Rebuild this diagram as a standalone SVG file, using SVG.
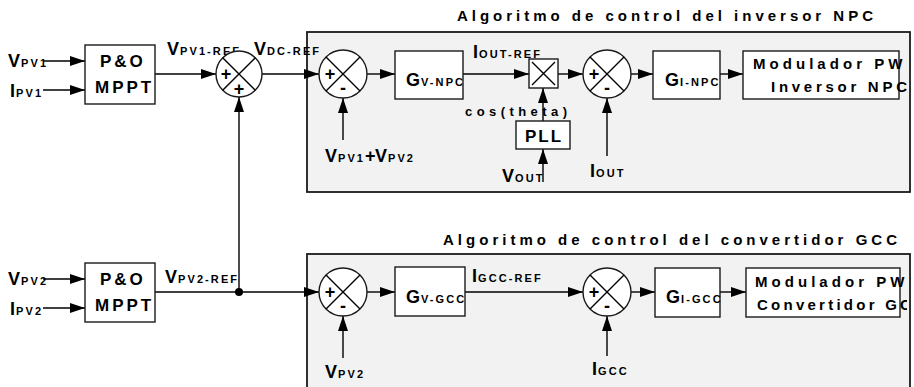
<svg xmlns="http://www.w3.org/2000/svg" width="914" height="387" viewBox="0 0 914 387">
<style>
text{font-family:"Liberation Sans",Arial,sans-serif;font-weight:bold;fill:#000}
.big{font-size:18px}
.sub{font-size:11px;letter-spacing:2.1px}
.ttl{font-size:15px}
.mp{font-size:17px;letter-spacing:3px}
.mod{font-size:15px}
.sg{font-size:18px}
.cont{fill:#f2f2f2;stroke:#1a1a1a;stroke-width:1.8}
.blk{fill:#fff;stroke:#1a1a1a;stroke-width:1.4}
.ln{stroke:#000;stroke-width:1.4;fill:none}
.arr{stroke:#000;stroke-width:1.4;fill:none;marker-end:url(#ah)}
</style>
<defs>
<marker id="ah" markerUnits="userSpaceOnUse" markerWidth="16" markerHeight="11" refX="15" refY="5" orient="auto">
<path d="M0,0 L15,5 L0,10 z" fill="#000"/>
</marker>
<clipPath id="clipR"><rect x="0" y="0" width="907" height="387"/></clipPath>
</defs>
<rect width="914" height="387" fill="#fff"/>

<!-- containers -->
<g id="cont-npc">
<text class="ttl" x="457" y="21" textLength="416" lengthAdjust="spacing">Algoritmo de control del inversor NPC</text>
<rect class="cont" x="307" y="32" width="603" height="160"/>
</g>
<g id="cont-gcc">
<text class="ttl" x="443" y="245" textLength="454" lengthAdjust="spacing">Algoritmo de control del convertidor GCC</text>
<rect class="cont" x="307" y="254" width="603" height="150"/>
</g>

<!-- connectors -->
<g id="connectors">
<line class="arr" x1="43" y1="61" x2="85" y2="61"/>
<line class="arr" x1="43" y1="90" x2="85" y2="90"/>
<line class="arr" x1="155" y1="74" x2="216" y2="74"/>
<line class="arr" x1="239" y1="292" x2="239" y2="97"/>
<line class="arr" x1="262" y1="74" x2="319" y2="74"/>
<line class="arr" x1="343" y1="140" x2="343" y2="98"/>
<line class="arr" x1="367" y1="74" x2="395" y2="74"/>
<line class="arr" x1="463" y1="74" x2="529" y2="74"/>
<line class="arr" x1="558" y1="74" x2="583" y2="74"/>
<line class="arr" x1="543" y1="121" x2="543" y2="88"/>
<line class="arr" x1="543" y1="182" x2="543" y2="149"/>
<line class="arr" x1="607" y1="156" x2="607" y2="98"/>
<line class="arr" x1="631" y1="74" x2="653" y2="74"/>
<line class="arr" x1="720" y1="74" x2="743" y2="74"/>

<line class="arr" x1="43" y1="279" x2="85" y2="279"/>
<line class="arr" x1="43" y1="308" x2="85" y2="308"/>
<line class="ln" x1="155" y1="292" x2="239" y2="292"/>
<line class="arr" x1="239" y1="292" x2="319" y2="292"/>
<circle cx="239" cy="292" r="4" fill="#000"/>
<line class="arr" x1="343" y1="358" x2="343" y2="316"/>
<line class="arr" x1="367" y1="292" x2="395" y2="292"/>
<line class="arr" x1="465" y1="292" x2="583" y2="292"/>
<line class="arr" x1="607" y1="356" x2="607" y2="316"/>
<line class="arr" x1="631" y1="292" x2="655" y2="292"/>
<line class="arr" x1="720" y1="292" x2="746" y2="292"/>
</g>

<!-- labels on signals -->
<g id="labels">
<text class="big" x="8" y="67">V<tspan class="sub" dx="1" letter-spacing="1.5">PV1</tspan></text>
<text class="big" x="10" y="97">I<tspan class="sub" dx="1" letter-spacing="1.5">PV1</tspan></text>
<text class="big" x="8" y="285">V<tspan class="sub" dx="1" letter-spacing="1.5">PV2</tspan></text>
<text class="big" x="10" y="315">I<tspan class="sub" dx="1" letter-spacing="1.5">PV2</tspan></text>
<text class="big" x="167" y="55">V<tspan class="sub" dx="1" letter-spacing="1.8">PV1-REF</tspan></text>
<text class="big" x="254" y="55">V<tspan class="sub" dx="1" letter-spacing="1.8">DC-REF</tspan></text>
<text class="big" x="165" y="283">V<tspan class="sub" dx="1" letter-spacing="2">PV2-REF</tspan></text>
<text class="big" x="325" y="162">V<tspan class="sub" x="338" letter-spacing="1.6">PV1</tspan><tspan x="365">+</tspan><tspan x="375">V</tspan><tspan class="sub" x="388" letter-spacing="1.6">PV2</tspan></text>
<text class="big" x="473" y="58">I<tspan class="sub" dx="1" letter-spacing="3.4">OUT-REF</tspan></text>
<text x="465" y="116" font-size="13" textLength="102" lengthAdjust="spacing">cos(theta)</text>
<text class="big" x="502" y="182">V<tspan class="sub" dx="1" letter-spacing="2.3">OUT</tspan></text>
<text class="big" x="590" y="177">I<tspan class="sub" dx="1" letter-spacing="2.6">OUT</tspan></text>
<text class="big" x="325" y="378">V<tspan class="sub" dx="1" letter-spacing="1.8">PV2</tspan></text>
<text class="big" x="472" y="282">I<tspan class="sub" dx="1" letter-spacing="2.3">GCC-REF</tspan></text>
<text class="big" x="592" y="375">I<tspan class="sub" dx="1" letter-spacing="1.6">GCC</tspan></text>
</g>

<!-- top row nodes -->
<g id="mppt1">
<rect class="blk" x="85" y="45" width="70" height="59"/>
<text class="mp" x="100" y="67">P&amp;O</text>
<text class="mp" x="95" y="93">MPPT</text>
</g>
<g id="sum1">
<circle class="blk" cx="239" cy="74" r="23"/>
<path class="ln" d="M222.7,57.7 L255.3,90.3 M255.3,57.7 L222.7,90.3"/>
<text class="sg" x="226" y="80" text-anchor="middle">+</text>
<text class="sg" x="239" y="95" text-anchor="middle">+</text>
</g>
<g id="sum2">
<circle class="blk" cx="343" cy="74" r="24"/>
<path class="ln" d="M326,57 L360,91 M360,57 L326,91"/>
<text class="sg" x="330" y="80" text-anchor="middle">+</text>
<text class="sg" x="343" y="94" text-anchor="middle">-</text>
</g>
<g id="gv-npc">
<rect class="blk" x="395" y="51" width="68" height="48"/>
<text class="big" x="406" y="86">G<tspan class="sub" dx="1">V-NPC</tspan></text>
</g>
<g id="mult">
<rect class="blk" x="529" y="59" width="29" height="29"/>
<path class="ln" d="M532,62 L555,85 M555,62 L532,85"/>
</g>
<g id="pll">
<rect class="blk" x="516" y="121" width="54" height="28"/>
<text x="544" y="142" font-size="17" letter-spacing="2" text-anchor="middle">PLL</text>
</g>
<g id="sum3">
<circle class="blk" cx="607" cy="74" r="24"/>
<path class="ln" d="M590,57 L624,91 M624,57 L590,91"/>
<text class="sg" x="594" y="80" text-anchor="middle">+</text>
<text class="sg" x="607" y="94" text-anchor="middle">-</text>
</g>
<g id="gi-npc">
<rect class="blk" x="653" y="51" width="67" height="48"/>
<text class="big" x="665" y="86">G<tspan class="sub" dx="1">I-NPC</tspan></text>
</g>
<g id="mod-npc">
<rect class="blk" x="743" y="51" width="156" height="48"/>
<g clip-path="url(#clipR)">
<text class="mod" x="753" y="69" textLength="166" lengthAdjust="spacing">Modulador PWM</text>
<text class="mod" x="771" y="92" textLength="136" lengthAdjust="spacing">Inversor NPC</text>
</g>
</g>

<!-- bottom row nodes -->
<g id="mppt2">
<rect class="blk" x="85" y="263" width="70" height="59"/>
<text class="mp" x="100" y="285">P&amp;O</text>
<text class="mp" x="95" y="311">MPPT</text>
</g>
<g id="sum4">
<circle class="blk" cx="343" cy="292" r="24"/>
<path class="ln" d="M326,275 L360,309 M360,275 L326,309"/>
<text class="sg" x="330" y="298" text-anchor="middle">+</text>
<text class="sg" x="343" y="312" text-anchor="middle">-</text>
</g>
<g id="gv-gcc">
<rect class="blk" x="395" y="267" width="70" height="49"/>
<text class="big" x="406" y="303">G<tspan class="sub" dx="1">V-GCC</tspan></text>
</g>
<g id="sum5">
<circle class="blk" cx="607" cy="292" r="24"/>
<path class="ln" d="M590,275 L624,309 M624,275 L590,309"/>
<text class="sg" x="594" y="298" text-anchor="middle">+</text>
<text class="sg" x="607" y="312" text-anchor="middle">-</text>
</g>
<g id="gi-gcc">
<rect class="blk" x="655" y="268" width="65" height="49"/>
<text class="big" x="666" y="303">G<tspan class="sub" dx="1">I-GCC</tspan></text>
</g>
<g id="mod-gcc">
<rect class="blk" x="746" y="268" width="154" height="49"/>
<g clip-path="url(#clipR)">
<text class="mod" x="755" y="287" textLength="166" lengthAdjust="spacing">Modulador PWM</text>
<text class="mod" x="757" y="310" textLength="168" lengthAdjust="spacing">Convertidor GCC</text>
</g>
</g>
</svg>
